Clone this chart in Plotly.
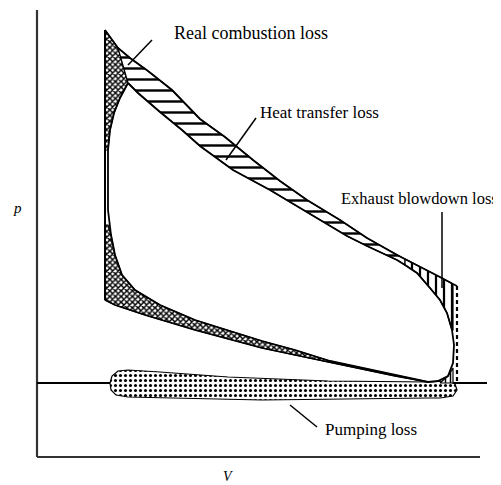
import plotly.graph_objects as go

# ---- data (V, p) in chart units ----
ideal_V = [68, 75, 81, 93, 111, 135, 163, 188, 216, 243, 270, 303, 330, 360, 368, 383, 403, 416, 420]
ideal_p = [427, 417, 409, 399, 386, 367, 338, 320, 297, 276, 257, 237, 219, 202, 198, 190, 180, 173, 171]

real_V = [91, 101, 123, 145, 163, 196, 233, 263, 310, 330, 360, 368, 380, 393, 403, 410, 415, 417, 416, 411, 401, 391,
          363, 325, 293, 258, 225, 193, 158, 123, 98, 85, 78, 74, 71, 71, 71, 73, 77, 83, 91]
real_p = [374, 364, 345, 327, 311, 287, 267, 249, 221, 211, 197, 192, 184, 169, 157, 144, 127, 112, 94, 81, 76, 75,
          81, 89, 96, 107, 116, 126, 137, 152, 167, 182, 202, 222, 247, 277, 307, 327, 344, 359, 374]

ideal_comp_V = [68, 78, 108, 158, 225, 291, 358, 391]
ideal_comp_p = [157, 152, 142, 127, 109, 95, 81, 75]

comb_V = [68, 75, 81, 91, 83, 77, 73, 71, 68, 68]
comb_p = [427, 417, 409, 374, 359, 344, 327, 307, 307, 427]

heat_V = [81, 93, 111, 135, 163, 188, 216, 243, 270, 303, 330, 360, 368,
          368, 360, 330, 310, 263, 233, 196, 163, 145, 123, 101, 91, 81]
heat_p = [409, 399, 386, 367, 338, 320, 297, 276, 257, 237, 219, 202, 198,
          192, 197, 211, 221, 249, 267, 287, 311, 327, 345, 364, 374, 409]

blow_V = [368, 383, 403, 416, 416, 415, 410, 403, 393, 380, 368, 368]
blow_p = [198, 190, 180, 173, 127, 127, 144, 157, 169, 184, 192, 198]

blow2_V = [403, 411, 416, 416, 403]
blow2_p = [74, 81, 89, 74, 74]

compl_V = [68, 68, 78, 108, 158, 225, 291, 358, 391, 363, 325, 293, 258, 225, 193, 158, 123, 98, 85, 78, 74, 71, 68]
compl_p = [232, 157, 152, 142, 127, 109, 95, 81, 75, 81, 89, 96, 107, 116, 126, 137, 152, 167, 182, 202, 222, 232, 232]

pump_V = [73, 75, 81, 91, 123, 191, 291, 391, 411, 418, 420, 416, 403, 391, 225, 91, 79, 74, 73]
pump_p = [74, 81, 86, 87, 85, 80, 76, 75, 76, 73, 67, 61, 59, 59, 57, 60, 62, 67, 74]

atm_p = 74
dash_V = 420
dash_p = [171, 74]
cv_V = 68
cv_p = [157, 427]
axis_len_V = 443
axis_len_p = 447

labels = ["Real combustion loss", "Heat transfer loss", "Exhaust blowdown loss", "Pumping loss"]
label_V = [135, 221, 302, 286]
label_p = [424, 345, 259, 28]
label_size = [18, 17, 16.5, 17]
ptr_V = [[115, 91], [219, 189], [405, 405], [253, 280]]
ptr_p = [[417, 392], [339, 297], [245, 169], [52, 30]]

fig = go.Figure()

def region(V, p, shape, size, solidity):
    fig.add_trace(go.Scatter(
        x=V, y=p, mode="lines", fill="toself",
        line=dict(color="black", width=1.2),
        fillcolor="white",
        fillpattern=dict(shape=shape, size=size, solidity=solidity,
                         fgcolor="black", bgcolor="white", fillmode="replace"),
        hoverinfo="skip", showlegend=False))

def line(V, p, width=1.8, dash="solid", color="black"):
    fig.add_trace(go.Scatter(x=V, y=p, mode="lines",
                             line=dict(color=color, width=width, dash=dash),
                             hoverinfo="skip", showlegend=False))

# axes
line([0, 0], [0, axis_len_p], width=2.2, color="#333")
line([0, axis_len_V], [0, 0], width=2.2, color="#333")
# atmospheric line
line([0, 450], [atm_p, atm_p], width=1.8)

region(pump_V, pump_p, ".", 5, 0.3)
region(comb_V, comb_p, "x", 4, 0.6)
region(compl_V, compl_p, "x", 4, 0.6)
region(heat_V, heat_p, "-", 11, 0.22)
region(blow_V, blow_p, "|", 8, 0.28)
region(blow2_V, blow2_p, "|", 5, 0.3)

line(real_V, real_p, width=1.8)
line(ideal_V, ideal_p, width=1.8)
line(ideal_comp_V, ideal_comp_p, width=1.5)
line([cv_V, cv_V], cv_p, width=2)
line([dash_V, dash_V], dash_p, width=2.2, dash="4px,3px")

for V, p in zip(ptr_V, ptr_p):
    line(V, p, width=1.5)

annotations = []
for t, x, y, s in zip(labels, label_V, label_p, label_size):
    annotations.append(dict(x=x, y=y, text=t, showarrow=False, xanchor="left", yanchor="middle",
                            font=dict(family="Liberation Serif", size=s, color="black")))
annotations.append(dict(x=-20, y=249, text="<i>p</i>", showarrow=False,
                        font=dict(family="Liberation Serif", size=15, color="black")))
annotations.append(dict(x=191, y=-19, text="<i>V</i>", showarrow=False,
                        font=dict(family="Liberation Serif", size=14, color="black")))

# the page has an 8px body margin, so the figure is placed 8px right/down in the window
fig.update_layout(
    width=493, height=477,
    margin=dict(l=0, r=0, t=0, b=0),
    paper_bgcolor="white", plot_bgcolor="white",
    xaxis=dict(range=[-29, 464], visible=False, fixedrange=True),
    yaxis=dict(range=[-28, 449], visible=False, fixedrange=True),
    annotations=annotations,
)

fig.write_html("out.html")
